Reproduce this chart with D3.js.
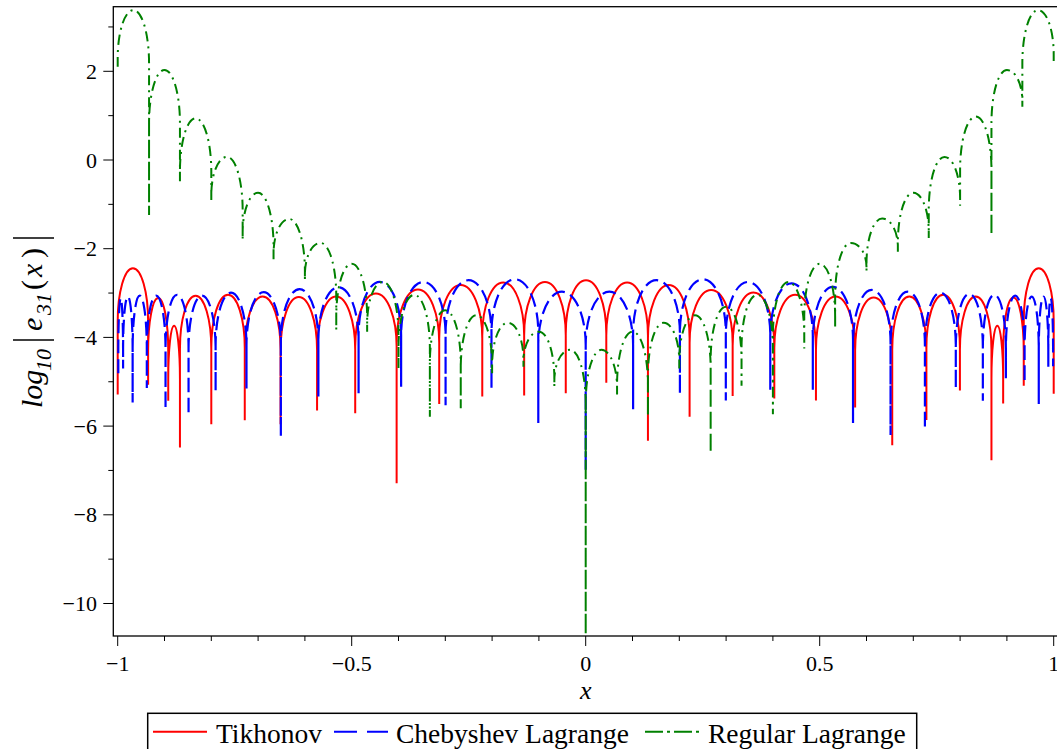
<!DOCTYPE html>
<html>
<head>
<meta charset="utf-8">
<script src="https://cdn.jsdelivr.net/npm/d3@7"></script>
<style>
  body { margin: 0; background: #fff; }
  svg { display: block; font-family: "Liberation Serif", "Times New Roman", serif; }
</style>
</head>
<body>
<svg id="chart" width="1057" height="749"></svg>
<script>
// nodes (dips) and arch tops, log10 units
var tikDipX = [-1, -0.935, -0.892, -0.867, -0.800, -0.7285, -0.652, -0.574, -0.4925, -0.404, -0.313, -0.221, -0.1315, -0.0426,
               0.044, 0.133, 0.222, 0.314, 0.403, 0.492, 0.5757, 0.655, 0.728, 0.7996, 0.867, 0.892, 0.936, 1];
var tikDipY = [-5.29, -5.07, -5.43, -6.48, -5.96, -5.87, -5.96, -5.65, -5.71, -7.29, -5.50, -5.33, -5.31, -5.26,
               -5.02, -6.33, -5.79, -5.32, -5.38, -5.42, -5.58, -6.43, -5.86, -5.20, -6.77, -5.49, -5.09, -5.27];
var tikPeakY = [-2.44, -3.11, -3.74, -3.06, -3.04, -3.08, -3.09, -3.08, -3.01, -2.92, -2.82, -2.76, -2.75, -2.71,
                -2.76, -2.82, -2.93, -2.99, -3.04, -3.08, -3.10, -3.08, -3.04, -3.08, -3.74, -3.10, -2.44];

var chebDipX = [-0.9987, -0.9885, -0.9681, -0.9378, -0.8978, -0.8486, -0.7908, -0.7248, -0.6514, -0.5712, -0.4853,
                -0.3944, -0.2994, -0.2013, -0.1013, 0, 0.1013, 0.2013, 0.2994, 0.3944, 0.4853, 0.5712, 0.6514, 0.7248,
                0.7908, 0.8486, 0.8978, 0.9378, 0.9681, 0.9885, 0.9987];
var chebDipY = [-4.81, -4.70, -5.47, -5.14, -5.62, -5.75, -5.21, -5.15, -6.23, -5.33, -5.26, -5.11, -5.53, -5.15, -5.93,
                -7.0, -5.62, -5.27, -5.42, -5.18, -5.18, -5.93, -6.20, -6.07, -5.15, -5.43, -4.92, -5.02, -5.50, -4.66, -4.65];
var chebPeakY = [-3.12, -3.08, -3.06, -3.06, -3.04, -3.06, -2.99, -2.98, -2.91, -2.87, -2.75, -2.75, -2.71, -2.69, -2.97,
                 -2.97, -2.71, -2.69, -2.75, -2.78, -2.86, -2.93, -2.97, -2.99, -3.02, -3.04, -3.06, -3.08, -3.08, -3.12];

var regDipX = [-1, -0.933, -0.867, -0.8, -0.733, -0.667, -0.6, -0.533, -0.467, -0.4, -0.333, -0.267, -0.2, -0.133, -0.067,
               0, 0.067, 0.133, 0.2, 0.267, 0.333, 0.4, 0.467, 0.533, 0.6, 0.667, 0.733, 0.8, 0.867, 0.933, 1];
var regDipY = [2.10, -1.24, -0.48, -0.94, -1.80, -2.25, -2.71, -3.83, -3.87, -4.70, -5.79, -5.60, -4.81, -4.66, -5.11,
               -10.7, -5.29, -5.79, -4.70, -6.61, -5.09, -5.73, -4.25, -3.79, -2.51, -2.07, -1.76, -1.03, -1.69, 1.20, 2.21];
var regPeakY = [3.38, 2.03, 0.94, 0.07, -0.74, -1.33, -1.87, -2.34, -2.75, -3.04, -3.39, -3.50, -3.67, -3.87, -4.28,
                -4.28, -3.87, -3.67, -3.50, -3.31, -3.04, -2.75, -2.34, -1.87, -1.32, -0.74, 0.07, 0.98, 2.03, 3.38];

var xMajor = [-1, -0.5, 0, 0.5, 1];
var xMinor = [-0.9, -0.8, -0.7, -0.6, -0.4, -0.3, -0.2, -0.1, 0.1, 0.2, 0.3, 0.4, 0.6, 0.7, 0.8, 0.9];
var yMajor = [-10, -8, -6, -4, -2, 0, 2];
var yMinor = [-9, -7, -5, -3, -1, 1, 3];

var seriesNames = ["Tikhonov", "Chebyshev Lagrange", "Regular Lagrange"];

var svg = d3.select("#chart");

var x = d3.scaleLinear().domain([-1, 1]).range([117.7, 1053.7]);
var y = d3.scaleLinear().domain([-10, 2]).range([603.5, 71.3]);

var box = { left: 113.3, right: 1058, top: 6.7, bottom: 636 };

svg.append("clipPath").attr("id", "clip")
  .append("rect")
  .attr("x", box.left).attr("y", box.top)
  .attr("width", box.right - box.left).attr("height", box.bottom - box.top);

// each arch: vertical spike at the node, elliptical cap up to the top value
var archH = 1.2;
function archPath(dipX, dipY, peakY) {
  var p = "";
  for (var i = 0; i < dipX.length - 1; i++) {
    var x1 = x(dipX[i]), x2 = x(dipX[i + 1]), xm = (x1 + x2) / 2;
    var top = y(peakY[i]);
    var h1 = Math.min(archH, 0.85 * (peakY[i] - dipY[i]));
    var h2 = Math.min(archH, 0.85 * (peakY[i] - dipY[i + 1]));
    var b1 = y(peakY[i] - h1), b2 = y(peakY[i] - h2);
    if (i === 0) p += "M" + x1 + "," + y(dipY[i]);
    p += "L" + x1 + "," + b1;
    p += "A" + (xm - x1) + "," + (b1 - top) + " 0 0 1 " + xm + "," + top;
    p += "A" + (x2 - xm) + "," + (b2 - top) + " 0 0 1 " + x2 + "," + b2;
    p += "L" + x2 + "," + y(dipY[i + 1]);
  }
  return p;
}

var curves = svg.append("g").attr("clip-path", "url(#clip)");

curves.append("path")
  .attr("d", archPath(tikDipX, tikDipY, tikPeakY))
  .attr("fill", "none").attr("stroke", "#ff0000").attr("stroke-width", 2);

curves.append("path")
  .attr("d", archPath(chebDipX, chebDipY, chebPeakY))
  .attr("fill", "none").attr("stroke", "#0000ff").attr("stroke-width", 2.2)
  .attr("stroke-dasharray", "14,6");

curves.append("path")
  .attr("d", archPath(regDipX, regDipY, regPeakY))
  .attr("fill", "none").attr("stroke", "#008000").attr("stroke-width", 2)
  .attr("stroke-dasharray", "10,5,2,5");

// box
svg.append("rect")
  .attr("x", box.left).attr("y", box.top)
  .attr("width", box.right - box.left).attr("height", box.bottom - box.top)
  .attr("fill", "none").attr("stroke", "#000").attr("stroke-width", 1.3);

// x ticks
svg.append("g").selectAll("line").data(xMajor).enter().append("line")
  .attr("x1", function(d) { return x(d); }).attr("x2", function(d) { return x(d); })
  .attr("y1", box.bottom).attr("y2", box.bottom + 10)
  .attr("stroke", "#000").attr("stroke-width", 1);
svg.append("g").selectAll("line").data(xMinor).enter().append("line")
  .attr("x1", function(d) { return x(d); }).attr("x2", function(d) { return x(d); })
  .attr("y1", box.bottom).attr("y2", box.bottom + 5)
  .attr("stroke", "#000").attr("stroke-width", 1);
svg.append("g").selectAll("text").data(xMajor).enter().append("text")
  .attr("x", function(d) { return x(d); })
  .attr("y", 671)
  .attr("text-anchor", "middle")
  .attr("font-size", 22)
  .text(function(d) { return String(d).replace("-", "\u2212"); });

// y ticks
svg.append("g").selectAll("line").data(yMajor).enter().append("line")
  .attr("x1", box.left - 10).attr("x2", box.left)
  .attr("y1", function(d) { return y(d); }).attr("y2", function(d) { return y(d); })
  .attr("stroke", "#000").attr("stroke-width", 1);
svg.append("g").selectAll("line").data(yMinor).enter().append("line")
  .attr("x1", box.left - 5).attr("x2", box.left)
  .attr("y1", function(d) { return y(d); }).attr("y2", function(d) { return y(d); })
  .attr("stroke", "#000").attr("stroke-width", 1);
svg.append("g").selectAll("text").data(yMajor).enter().append("text")
  .attr("x", 97)
  .attr("y", function(d) { return y(d) + 7.5; })
  .attr("text-anchor", "end")
  .attr("font-size", 22)
  .text(function(d) { return String(d).replace("-", "\u2212"); });

// axis titles
svg.append("text")
  .attr("x", x(0)).attr("y", 699)
  .attr("text-anchor", "middle")
  .attr("font-size", 26).attr("font-style", "italic")
  .text("x");

var yl = svg.append("g").attr("transform", "translate(42,408) rotate(-90)");
yl.append("text").attr("x", 0).attr("y", 0).attr("font-size", 30).attr("font-style", "italic").text("log");
yl.append("text").attr("x", 37).attr("y", 9).attr("font-size", 22).attr("font-style", "italic").text("10");
yl.append("line").attr("x1", 68).attr("x2", 68).attr("y1", -29).attr("y2", 12).attr("stroke", "#000").attr("stroke-width", 1.6);
yl.append("text").attr("x", 77).attr("y", 0).attr("font-size", 30).attr("font-style", "italic").text("e");
yl.append("text").attr("x", 93).attr("y", 9).attr("font-size", 22).attr("font-style", "italic").text("31");
yl.append("text").attr("x", 118).attr("y", 0).attr("font-size", 30).text("(");
yl.append("text").attr("x", 131).attr("y", 0).attr("font-size", 30).attr("font-style", "italic").text("x");
yl.append("text").attr("x", 150).attr("y", 0).attr("font-size", 30).text(")");
yl.append("line").attr("x1", 170).attr("x2", 170).attr("y1", -29).attr("y2", 12).attr("stroke", "#000").attr("stroke-width", 1.6);

// legend
var lg = svg.append("g");
lg.append("rect")
  .attr("x", 147.7).attr("y", 713.3).attr("width", 769).attr("height", 50)
  .attr("fill", "#fff").attr("stroke", "#000").attr("stroke-width", 1.5);
var legendItems = [
  { name: seriesNames[0], color: "#ff0000", dash: null, x1: 153, x2: 207, tx: 216 },
  { name: seriesNames[1], color: "#0000ff", dash: "23,10", x1: 334, x2: 388, tx: 396 },
  { name: seriesNames[2], color: "#008000", dash: "18,4,3,4", x1: 645, x2: 700, tx: 708 }
];
legendItems.forEach(function(it) {
  var l = lg.append("line")
    .attr("x1", it.x1).attr("x2", it.x2).attr("y1", 731.7).attr("y2", 731.7)
    .attr("stroke", it.color).attr("stroke-width", 2);
  if (it.dash) l.attr("stroke-dasharray", it.dash);
  lg.append("text").attr("x", it.tx).attr("y", 742.7).attr("font-size", 27.5).text(it.name);
});
</script>
</body>
</html>
